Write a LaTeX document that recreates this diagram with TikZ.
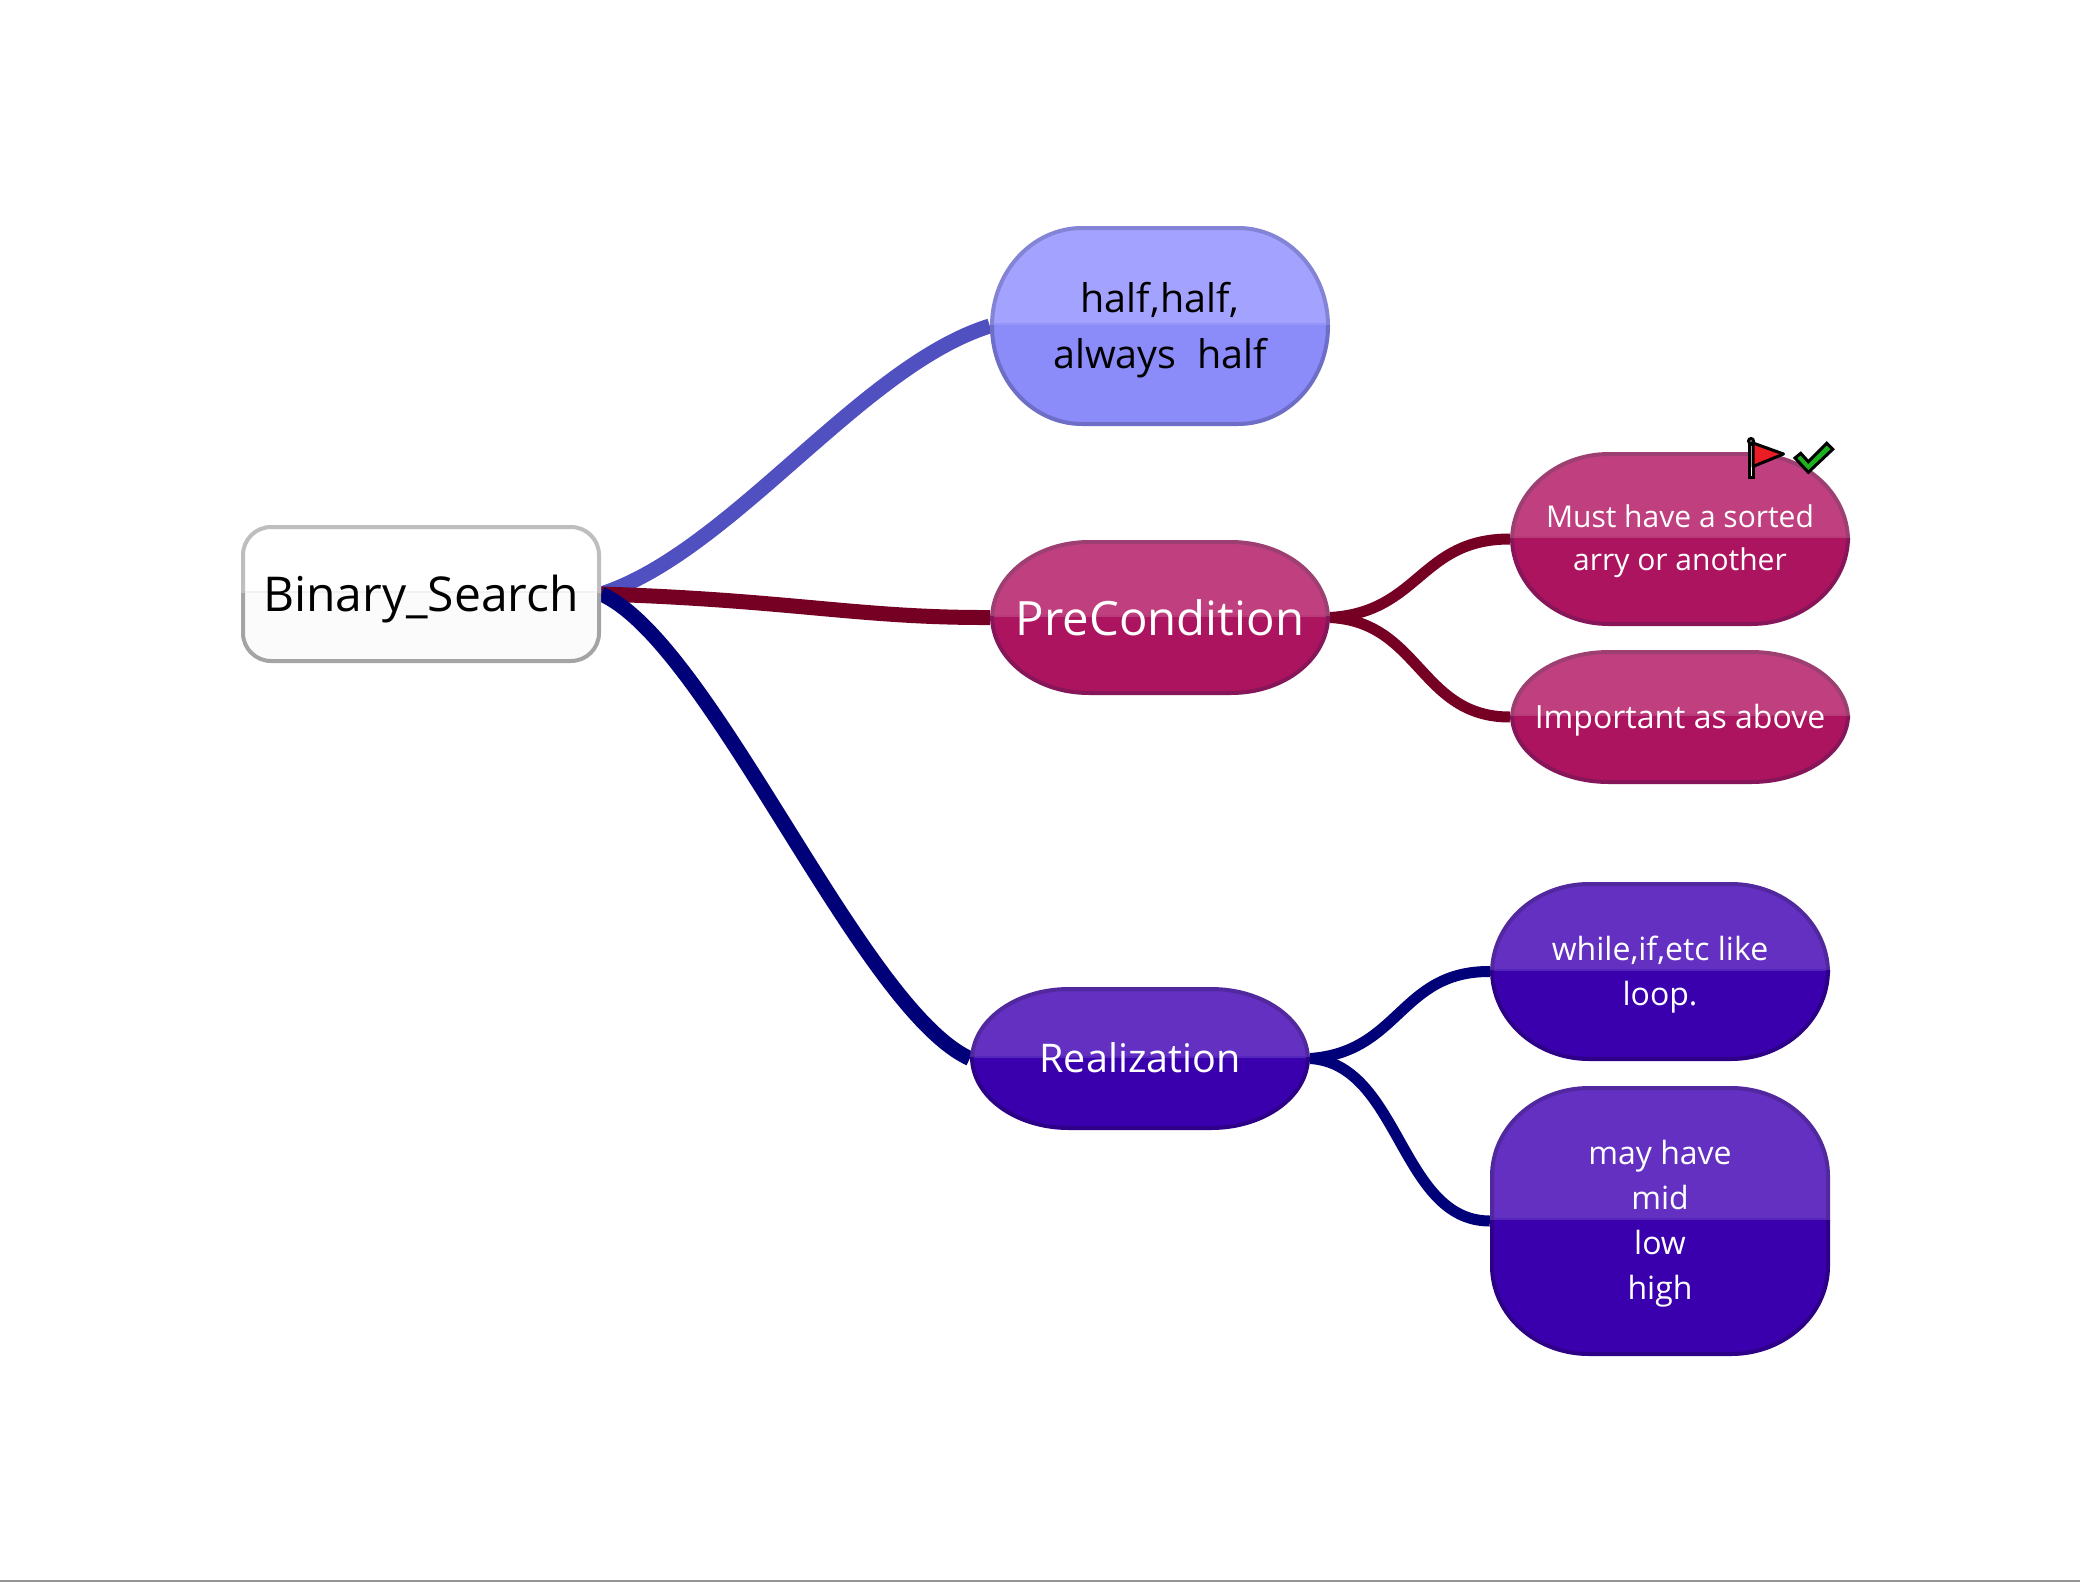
\documentclass[tikz,border=0pt]{standalone}
\usepackage{fontspec}
\setmainfont{Open Sans}
\pgfdeclarelayer{background}
\pgfdeclarelayer{shapes}
\pgfsetlayers{background,shapes,main}
\definecolor{blueTop}{HTML}{A3A3FF}
\definecolor{blueBot}{HTML}{8B8BF9}
\definecolor{blueEdgeTop}{HTML}{8484D6}
\definecolor{blueEdgeBot}{HTML}{6E6EC6}
\definecolor{blueBand}{HTML}{9696F8}
\definecolor{blueLine}{HTML}{5050C0}
\definecolor{pinkTop}{HTML}{BF3F7F}
\definecolor{pinkBot}{HTML}{AD145F}
\definecolor{pinkEdgeTop}{HTML}{9E3F72}
\definecolor{pinkEdgeBot}{HTML}{86155A}
\definecolor{pinkBand}{HTML}{B83A79}
\definecolor{wineLine}{HTML}{750024}
\definecolor{violetTop}{HTML}{6330C2}
\definecolor{violetBot}{HTML}{3A00AD}
\definecolor{violetEdgeTop}{HTML}{52289F}
\definecolor{violetEdgeBot}{HTML}{2E0088}
\definecolor{violetBand}{HTML}{5526BC}
\definecolor{navyLine}{HTML}{000078}
\definecolor{rootTop}{HTML}{FFFFFF}
\definecolor{rootBot}{HTML}{FBFBFB}
\definecolor{rootEdgeTop}{HTML}{BEBEBE}
\definecolor{rootEdgeBot}{HTML}{A4A4A4}
\definecolor{rootBand}{HTML}{F1F1F1}
\definecolor{flagRed}{HTML}{EC1C24}
\definecolor{tickGreen}{HTML}{1DB11D}
\tikzset{
  x=1pt,y=-1pt,
  topicbox/.style={rectangle,inner sep=0pt,align=center},
  mainbranch/.style={line width=15pt},
  subbranch/.style={line width=11pt},
  marker/.style={line width=3pt,draw=black},
}
% a lowered line of text that keeps its own height and depth
\newcommand{\dn}[2]{\raisebox{-#1pt}[\height][\depth]{#2}}
% #1 name, #2 centre, #3 width, #4 height, #5 rx, #6 ry, #7 palette, #8 node options, #9 text
\newcommand{\topic}[9]{%
  \node[topicbox,minimum width=#3pt,minimum height=#4pt,#8] (#1) at #2 {#9};
  \begin{pgfonlayer}{shapes}
  \begin{scope}[shift={(#1.center)}]
    \pgfmathsetmacro{\hw}{#3/2-2}
    \pgfmathsetmacro{\hh}{#4/2-2}
    \pgfmathsetmacro{\kx}{0.4477*#5}
    \pgfmathsetmacro{\ky}{0.4477*#6}
    \pgfmathsetmacro{\fx}{\hw-#5}
    \pgfmathsetmacro{\fy}{\hh-#6}
    \pgfmathsetmacro{\gx}{\fx+0.5523*#5}
    \pgfmathsetmacro{\gy}{\fy+0.5523*#6}
    \def\outline{(-\fx,-\hh) -- (\fx,-\hh) .. controls (\gx,-\hh) and (\hw,-\gy) .. (\hw,-\fy)
      -- (\hw,\fy) .. controls (\hw,\gy) and (\gx,\hh) .. (\fx,\hh)
      -- (-\fx,\hh) .. controls (-\gx,\hh) and (-\hw,\gy) .. (-\hw,\fy)
      -- (-\hw,-\fy) .. controls (-\hw,-\gy) and (-\gx,-\hh) .. (-\fx,-\hh) -- cycle}
    \begin{scope}
      \clip \outline;
      \fill[#7Top] (-\hw,-\hh) rectangle (\hw,-1);
      \fill[#7Bot] (-\hw,-1) rectangle (\hw,\hh);
      \fill[#7Band] (-\hw,-3) rectangle (\hw,-1);
    \end{scope}
    \begin{scope}
      \clip (-\hw-4,-\hh-4) rectangle (\hw+4,-1);
      \draw[#7EdgeTop,line width=4pt] \outline;
    \end{scope}
    \begin{scope}
      \clip (-\hw-4,-1) rectangle (\hw+4,\hh+4);
      \draw[#7EdgeBot,line width=4pt] \outline;
    \end{scope}
  \end{scope}
  \end{pgfonlayer}
}
\begin{document}
\begin{tikzpicture}
\useasboundingbox (0,0) rectangle (2080,1582);

\topic{root}{(421,594)}{360}{138}{28}{28}{root}{text=black,font=\fontsize{48}{56}\selectfont}{\dn{5}{Binary\_Search}}
\topic{half}{(1160,326)}{340}{200}{90}{98}{blue}{text=black,font=\fontsize{39.5}{56}\selectfont}{\dn{4}{half,half,}\\\dn{4}{always~~half}}
\topic{pre}{(1160,617.5)}{340}{155}{97}{77}{pink}{text=white,font=\fontsize{47.3}{56}\selectfont}{PreCondition}
\topic{must}{(1680,539)}{340}{174}{97}{87}{pink}{text=white,font=\fontsize{30}{43}\selectfont}{\dn{2}{Must have a sorted}\\\dn{2}{arry or another}}
\topic{imp}{(1680,717)}{340}{134}{97}{67}{pink}{text=white,font=\fontsize{32}{43}\selectfont}{\dn{3}{Important as above}}
\topic{real}{(1140,1058.5)}{340}{143}{97}{71}{violet}{text=white,font=\fontsize{39.5}{56}\selectfont}{\dn{-1}{Realization}}
\topic{whl}{(1660,971.5)}{340}{179}{97}{89}{violet}{text=white,font=\fontsize{32}{45}\selectfont}{\dn{3}{while,if,etc like}\\\dn{3}{loop.}}
\topic{may}{(1660,1221)}{340}{270}{97}{88}{violet}{text=white,font=\fontsize{32}{45}\selectfont}{\dn{3}{may have}\\\dn{3}{mid}\\\dn{3}{low}\\\dn{3}{high}}

\begin{pgfonlayer}{background}
\fill[white] (0,0) rectangle (2080,1582);
\coordinate (edgeL) at (0,1581);
\coordinate (edgeR) at (2080,1581);
\draw[line width=1.5pt,black!42] (edgeL) -- (edgeR);
\draw[mainbranch,blueLine] (root.east) .. controls (731,552) and (861,366) .. (half.west);
\draw[mainbranch,wineLine] (root.east) .. controls (790,600) and (860,618) .. (pre.west);
\draw[mainbranch,navyLine] (root.east) .. controls (711,643) and (860,1008) .. (real.west);
\draw[subbranch,wineLine] (pre.east) .. controls (1420,612) and (1420,539) .. (must.west);
\draw[subbranch,wineLine] (pre.east) .. controls (1420,622) and (1420,717) .. (imp.west);
\draw[subbranch,navyLine] (real.east) .. controls (1400,1052) and (1400,971) .. (whl.west);
\draw[subbranch,navyLine] (real.east) .. controls (1400,1064) and (1400,1221) .. (may.west);
\end{pgfonlayer}

% flag and tick marks
\draw[marker,fill=white] (1749,444) rectangle (1753,477);
\draw[marker,fill=black!25] (1751,441) circle (2.5pt);
\draw[marker,fill=flagRed,line join=round] (1753,443) -- (1783.5,454) -- (1753,466.5) -- cycle;
\draw[marker,fill=tickGreen,line join=miter] (1795,458) -- (1808.3,472.3) -- (1832.7,449.3) -- (1826.7,443.3) -- (1808.3,461.7) -- (1800.7,453.3) -- cycle;
\end{tikzpicture}
\end{document}
